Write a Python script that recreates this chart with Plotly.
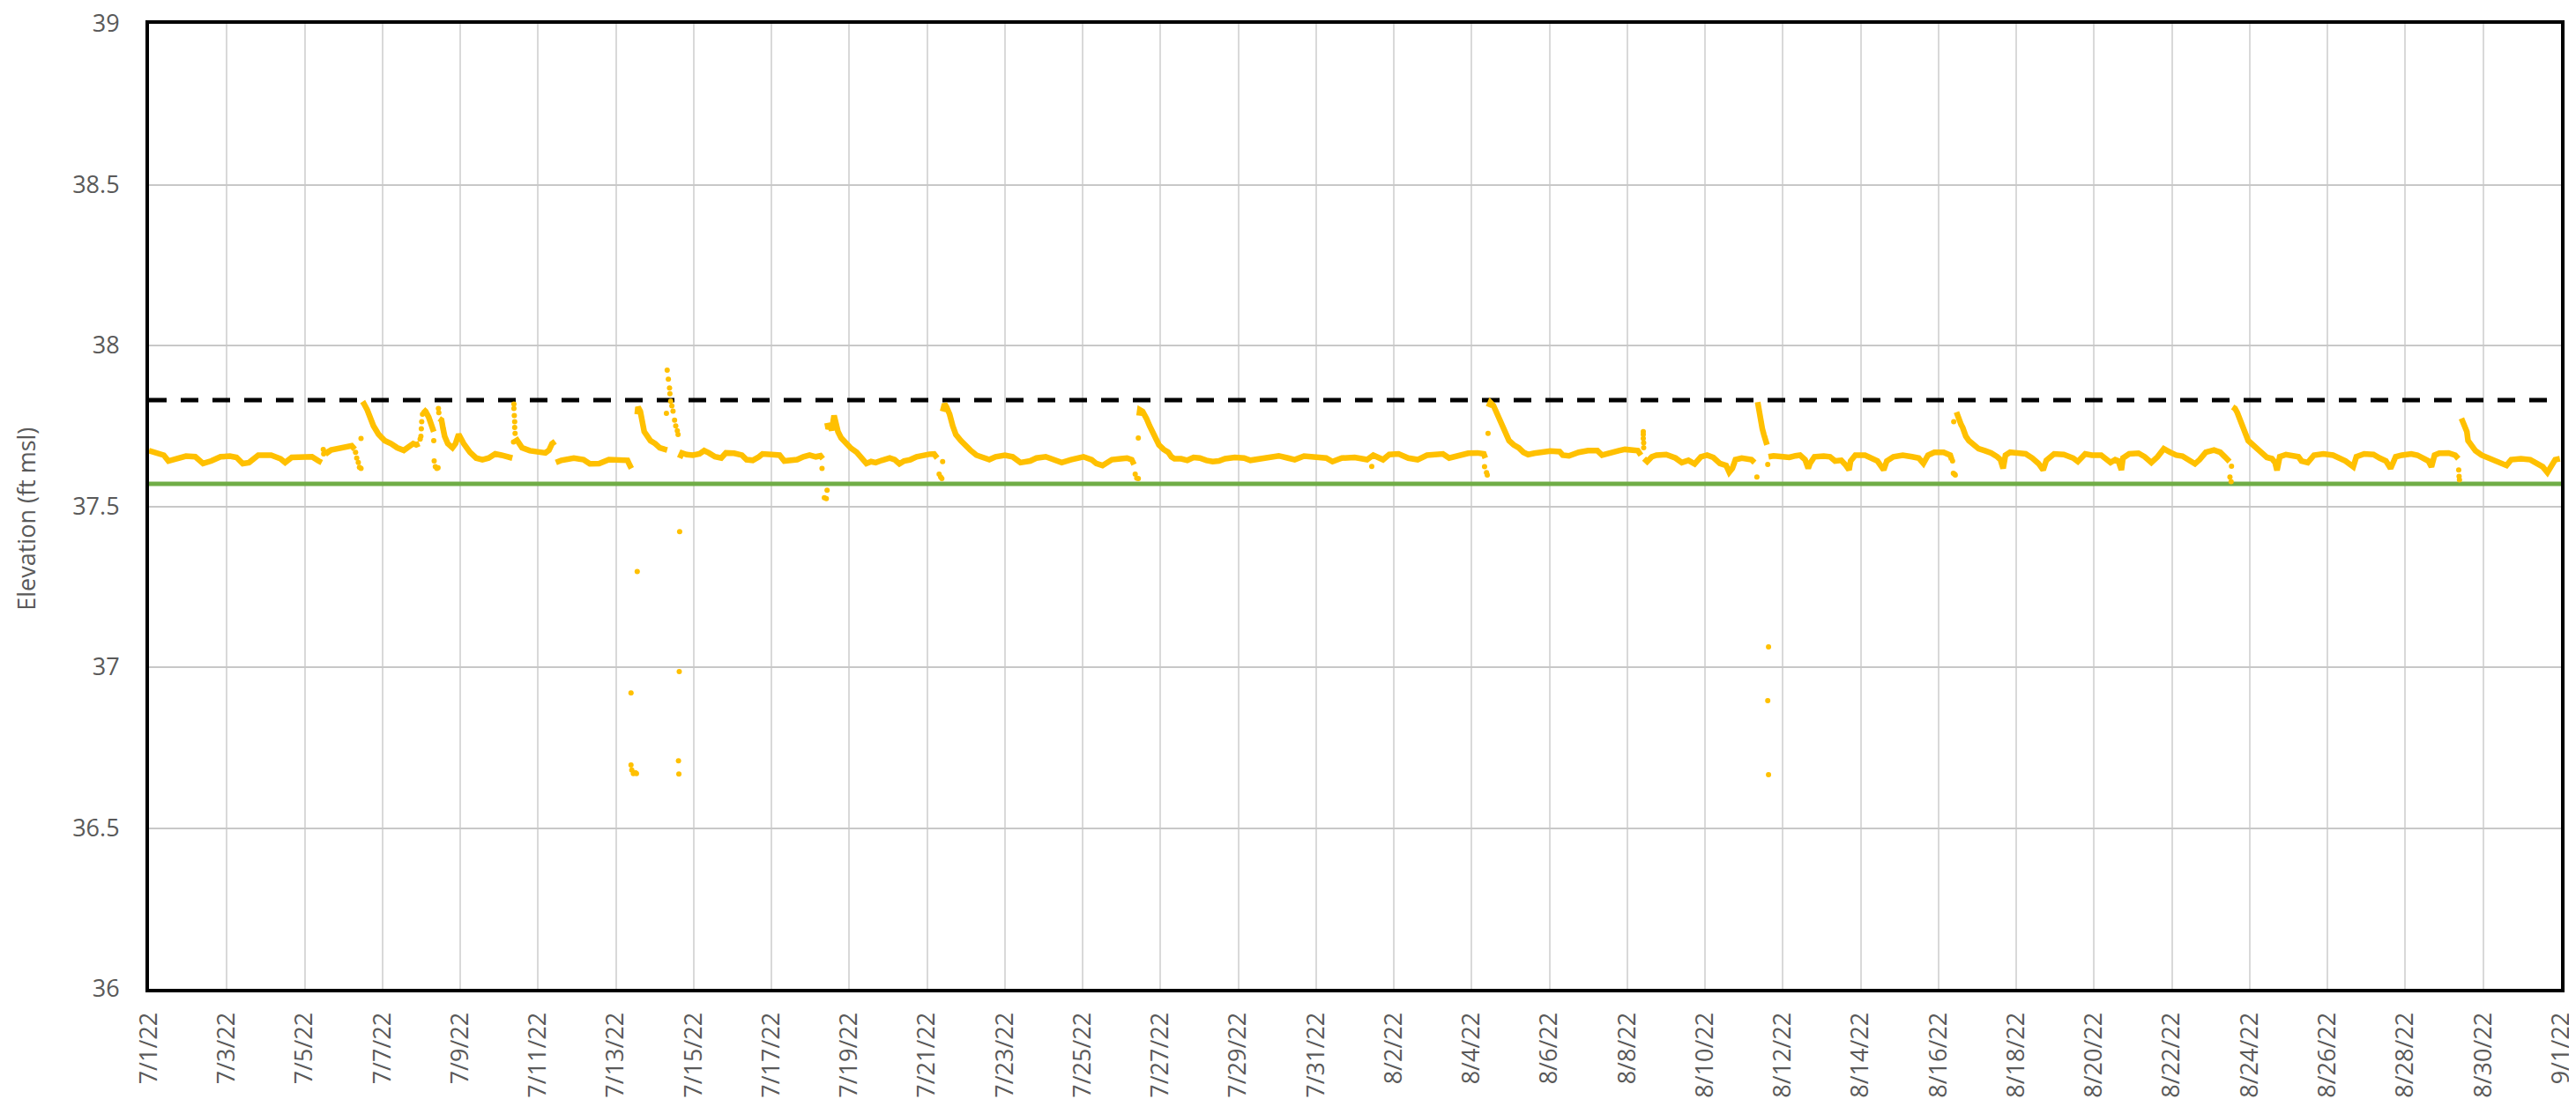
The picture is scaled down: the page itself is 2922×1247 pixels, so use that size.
import pandas as pd
import plotly.graph_objects as go

# ---------------------------------------------------------------------------
# Data
# Readings are (days since 7/1/22 00:00, elevation ft msl)
# ---------------------------------------------------------------------------
START = "2022-07-01"
END = "2022-09-01"

upper_level = 37.83   # dashed black reference line
lower_level = 37.57   # green reference line

y_ticks = [36, 36.5, 37, 37.5, 38, 38.5, 39]

# continuous stretches of the logger record
seg_a = [(0.00, 37.673), (0.19, 37.668), (0.38, 37.659), (0.50, 37.641), (0.71, 37.650), (0.95, 37.656),
         (1.19, 37.654), (1.39, 37.633), (1.60, 37.641), (1.84, 37.654), (2.08, 37.656), (2.25, 37.652),
         (2.41, 37.633), (2.57, 37.636), (2.81, 37.659), (3.14, 37.659), (3.38, 37.648), (3.50, 37.636),
         (3.67, 37.652), (3.95, 37.654), (4.19, 37.654), (4.36, 37.641), (4.44, 37.636)]
seg_b = [(4.56, 37.677), (4.60, 37.668), (4.68, 37.675), (4.76, 37.677), (5.00, 37.682), (5.21, 37.688),
         (5.29, 37.677)]
seg_c = [(5.47, 37.813), (5.53, 37.818), (5.61, 37.800), (5.69, 37.773), (5.77, 37.750), (5.90, 37.724),
         (6.06, 37.704), (6.22, 37.695), (6.38, 37.682), (6.55, 37.674), (6.67, 37.682), (6.79, 37.695),
         (6.87, 37.691), (6.95, 37.695)]
seg_d = [(7.05, 37.802), (7.11, 37.795), (7.19, 37.777), (7.27, 37.750), (7.32, 37.732)]
seg_e = [(7.46, 37.773), (7.52, 37.768), (7.56, 37.741), (7.60, 37.718), (7.68, 37.695), (7.80, 37.682),
         (7.88, 37.695), (7.96, 37.724), (8.09, 37.695), (8.25, 37.668), (8.41, 37.650), (8.57, 37.645),
         (8.73, 37.650), (8.90, 37.663), (9.06, 37.659), (9.22, 37.654), (9.34, 37.650)]
seg_f = [(9.42, 37.713), (9.46, 37.704), (9.59, 37.682), (9.79, 37.673), (9.99, 37.668), (10.19, 37.666),
         (10.28, 37.674), (10.36, 37.695), (10.44, 37.702)]
seg_g = [(10.46, 37.636), (10.60, 37.643), (10.92, 37.650), (11.17, 37.645), (11.33, 37.632), (11.57, 37.633),
         (11.82, 37.645), (12.06, 37.645), (12.30, 37.643), (12.36, 37.627), (12.40, 37.618)]
seg_h = [(12.55, 37.786), (12.57, 37.809), (12.63, 37.795), (12.69, 37.763), (12.73, 37.732), (12.81, 37.718),
         (12.89, 37.704), (13.01, 37.695), (13.13, 37.682), (13.26, 37.677), (13.32, 37.675)]
seg_i = [(13.64, 37.650), (13.70, 37.666), (13.82, 37.661), (13.98, 37.659), (14.15, 37.663), (14.27, 37.673),
         (14.39, 37.666), (14.55, 37.654), (14.71, 37.650), (14.83, 37.666), (15.04, 37.665), (15.24, 37.659),
         (15.36, 37.645), (15.52, 37.643), (15.68, 37.654), (15.77, 37.663), (16.01, 37.661), (16.21, 37.659),
         (16.33, 37.641), (16.49, 37.643), (16.66, 37.645), (16.82, 37.654), (16.98, 37.659), (17.14, 37.654),
         (17.26, 37.657), (17.32, 37.648)]
seg_j = [(17.43, 37.759), (17.46, 37.741), (17.51, 37.750), (17.55, 37.736), (17.61, 37.782), (17.64, 37.768),
         (17.67, 37.754), (17.71, 37.732), (17.79, 37.713), (17.91, 37.695), (18.03, 37.682), (18.19, 37.668),
         (18.32, 37.650), (18.44, 37.633), (18.56, 37.639), (18.68, 37.636), (18.84, 37.643), (19.04, 37.650),
         (19.17, 37.645), (19.29, 37.632), (19.41, 37.641), (19.57, 37.645), (19.73, 37.654), (19.89, 37.659),
         (20.06, 37.662), (20.18, 37.663), (20.26, 37.650)]
seg_k = [(20.40, 37.795), (20.45, 37.818), (20.50, 37.809), (20.58, 37.786), (20.66, 37.750), (20.74, 37.723),
         (20.87, 37.704), (20.99, 37.686), (21.11, 37.675), (21.27, 37.659), (21.43, 37.650), (21.60, 37.645),
         (21.76, 37.654), (22.00, 37.659), (22.20, 37.654), (22.40, 37.636), (22.65, 37.641), (22.81, 37.650),
         (23.05, 37.654), (23.26, 37.643), (23.46, 37.636), (23.70, 37.645), (24.02, 37.654), (24.23, 37.645),
         (24.35, 37.633), (24.51, 37.627), (24.75, 37.645), (24.98, 37.648), (25.14, 37.650), (25.26, 37.645),
         (25.32, 37.630)]
seg_l = [(25.45, 37.782), (25.47, 37.800), (25.54, 37.795), (25.59, 37.786), (25.64, 37.773), (25.72, 37.750),
         (25.80, 37.727), (25.88, 37.704), (25.96, 37.691), (26.08, 37.677), (26.20, 37.668), (26.28, 37.654),
         (26.36, 37.648), (26.53, 37.648), (26.69, 37.643), (26.85, 37.652), (27.01, 37.650), (27.18, 37.643),
         (27.34, 37.639), (27.50, 37.641), (27.66, 37.648), (27.91, 37.652), (28.15, 37.650), (28.31, 37.643),
         (28.55, 37.648), (28.80, 37.654), (29.04, 37.657), (29.28, 37.650), (29.45, 37.645), (29.69, 37.656),
         (30.01, 37.654), (30.26, 37.650), (30.42, 37.639), (30.66, 37.650), (30.99, 37.652), (31.31, 37.645),
         (31.47, 37.659), (31.72, 37.645), (31.88, 37.661), (32.12, 37.663), (32.37, 37.650), (32.61, 37.645),
         (32.85, 37.659), (33.10, 37.661), (33.26, 37.663), (33.42, 37.650), (33.66, 37.657), (33.91, 37.665),
         (34.15, 37.666), (34.31, 37.663), (34.35, 37.650)]
seg_m = [(34.43, 37.809), (34.48, 37.823), (34.56, 37.813), (34.64, 37.791), (34.72, 37.763), (34.80, 37.745),
         (34.88, 37.723), (34.96, 37.704), (35.08, 37.691), (35.21, 37.682), (35.33, 37.668), (35.45, 37.661),
         (35.61, 37.665), (35.77, 37.668), (36.02, 37.672), (36.26, 37.670), (36.34, 37.659), (36.50, 37.657),
         (36.75, 37.668), (36.99, 37.673), (37.23, 37.673), (37.35, 37.659), (37.46, 37.663), (37.62, 37.670),
         (37.78, 37.673), (37.94, 37.677), (38.11, 37.675), (38.27, 37.673), (38.35, 37.659)]
seg_n = [(38.43, 37.648), (38.51, 37.639), (38.63, 37.654), (38.75, 37.659), (39.00, 37.661), (39.24, 37.650),
         (39.40, 37.636), (39.57, 37.643), (39.73, 37.632), (39.89, 37.654), (40.05, 37.659), (40.21, 37.652),
         (40.38, 37.633), (40.54, 37.627), (40.62, 37.606), (40.70, 37.618), (40.78, 37.645), (40.94, 37.650),
         (41.19, 37.645), (41.27, 37.636)]
seg_o = [(41.35, 37.824), (41.37, 37.809), (41.38, 37.782), (41.43, 37.763), (41.47, 37.741), (41.51, 37.723),
         (41.55, 37.704), (41.59, 37.691)]
seg_p = [(41.63, 37.654), (41.76, 37.657), (42.00, 37.654), (42.16, 37.652), (42.32, 37.657), (42.44, 37.659),
         (42.57, 37.645), (42.65, 37.618), (42.69, 37.632), (42.81, 37.654), (43.05, 37.656), (43.21, 37.654),
         (43.34, 37.641), (43.50, 37.643), (43.62, 37.627), (43.70, 37.613), (43.74, 37.641), (43.86, 37.659),
         (44.11, 37.659), (44.27, 37.648), (44.43, 37.641), (44.59, 37.613), (44.67, 37.641), (44.84, 37.654),
         (45.08, 37.659), (45.32, 37.654), (45.49, 37.650), (45.61, 37.633), (45.73, 37.659), (45.89, 37.668),
         (46.13, 37.668), (46.30, 37.659), (46.34, 37.645)]
seg_q = [(46.46, 37.793), (46.50, 37.777), (46.58, 37.754), (46.62, 37.745), (46.66, 37.730), (46.70, 37.718),
         (46.78, 37.704), (46.90, 37.691), (47.03, 37.679), (47.19, 37.673), (47.35, 37.666), (47.51, 37.654),
         (47.59, 37.645), (47.66, 37.618), (47.72, 37.659), (47.84, 37.668), (48.08, 37.666), (48.24, 37.663),
         (48.41, 37.650), (48.57, 37.633), (48.69, 37.613), (48.77, 37.643), (48.97, 37.663), (49.22, 37.661),
         (49.46, 37.650), (49.58, 37.639), (49.77, 37.663), (49.94, 37.659), (50.18, 37.659), (50.34, 37.645),
         (50.42, 37.636), (50.54, 37.645), (50.62, 37.641), (50.70, 37.613), (50.74, 37.650), (50.90, 37.663),
         (51.14, 37.665), (51.30, 37.654), (51.47, 37.636), (51.63, 37.654), (51.79, 37.679), (51.95, 37.668),
         (52.11, 37.659), (52.27, 37.656), (52.43, 37.645), (52.59, 37.632), (52.71, 37.645), (52.87, 37.668),
         (53.08, 37.675), (53.24, 37.668), (53.36, 37.654), (53.44, 37.645), (53.48, 37.639)]
seg_r = [(53.56, 37.809), (53.62, 37.804), (53.68, 37.791), (53.72, 37.777), (53.78, 37.759), (53.84, 37.741),
         (53.90, 37.723), (53.96, 37.704), (54.08, 37.691), (54.20, 37.679), (54.32, 37.666), (54.44, 37.652),
         (54.57, 37.648), (54.65, 37.636), (54.70, 37.612), (54.77, 37.654), (54.93, 37.661), (55.09, 37.659),
         (55.25, 37.654), (55.33, 37.641), (55.49, 37.636), (55.65, 37.659), (55.89, 37.663), (56.14, 37.659),
         (56.30, 37.650), (56.46, 37.641), (56.66, 37.623), (56.74, 37.654), (56.94, 37.663), (57.18, 37.661),
         (57.34, 37.650), (57.50, 37.641), (57.62, 37.618), (57.75, 37.654), (57.91, 37.659), (58.15, 37.663),
         (58.31, 37.659), (58.47, 37.650), (58.59, 37.641), (58.67, 37.623), (58.75, 37.659), (58.87, 37.665),
         (59.11, 37.666), (59.28, 37.659), (59.36, 37.648)]
seg_s = [(59.44, 37.773), (59.52, 37.754), (59.58, 37.732), (59.61, 37.704), (59.68, 37.691), (59.80, 37.673),
         (59.96, 37.659), (60.16, 37.650), (60.32, 37.643), (60.48, 37.636), (60.60, 37.627), (60.72, 37.645),
         (60.97, 37.648), (61.21, 37.645), (61.37, 37.636), (61.53, 37.623), (61.65, 37.605), (61.73, 37.623),
         (61.85, 37.645), (61.97, 37.648)]

# sparse readings during fast rises / drops
sparse_pts = [(4.48, 37.677), (4.49, 37.663),
              (5.31, 37.668), (5.34, 37.650), (5.38, 37.636), (5.41, 37.621), (5.45, 37.618), (5.45, 37.711),
              (6.97, 37.709), (6.99, 37.718), (7.00, 37.741), (7.01, 37.763), (7.03, 37.786),
              (7.32, 37.704), (7.33, 37.641), (7.36, 37.623), (7.40, 37.618), (7.43, 37.620),
              (7.44, 37.804), (7.45, 37.791),
              (9.37, 37.700), (9.38, 37.818), (9.38, 37.804), (9.39, 37.782), (9.40, 37.763), (9.40, 37.745),
              (9.41, 37.727),
              (13.30, 37.789), (13.32, 37.923), (13.35, 37.895), (13.38, 37.868), (13.39, 37.850),
              (13.41, 37.827), (13.44, 37.812), (13.47, 37.796), (13.51, 37.768), (13.54, 37.750),
              (13.58, 37.735), (13.60, 37.723),
              (17.30, 37.618), (17.43, 37.550), (17.36, 37.527), (17.41, 37.524),
              (20.31, 37.600), (20.35, 37.591), (20.38, 37.586), (20.40, 37.639),
              (25.35, 37.600), (25.39, 37.588), (25.43, 37.586), (25.43, 37.712),
              (31.43, 37.624), (34.33, 37.623), (34.38, 37.605), (34.40, 37.597), (34.42, 37.727),
              (38.41, 37.732), (38.41, 37.723), (38.41, 37.711), (38.42, 37.697), (38.42, 37.682),
              (41.33, 37.591), (41.61, 37.630),
              (46.36, 37.641), (46.38, 37.603), (46.41, 37.600), (46.43, 37.597), (46.39, 37.763),
              (53.53, 37.625), (53.49, 37.591), (53.52, 37.577),
              (59.37, 37.613), (59.38, 37.593), (59.39, 37.582)]

# low outlier readings
low_outliers = [(12.39, 36.920), (12.39, 36.696), (12.41, 36.680), (12.45, 36.669), (12.50, 36.672),
                (12.53, 36.669), (12.55, 37.297),
                (13.64, 37.421), (13.63, 36.986), (13.61, 36.709), (13.62, 36.668),
                (41.63, 37.063), (41.61, 36.896), (41.63, 36.666)]

segments = [seg_a, seg_b, seg_c, seg_d, seg_e, seg_f, seg_g, seg_h, seg_i, seg_j,
            seg_k, seg_l, seg_m, seg_n, seg_o, seg_p, seg_q, seg_r, seg_s]

# ---------------------------------------------------------------------------
base = pd.Timestamp(START)


def to_time(d):
    return base + pd.Timedelta(days=d)


line_x, line_y = [], []
for seg in segments:
    for d, v in seg:
        line_x.append(to_time(d))
        line_y.append(v)
    line_x.append(None)
    line_y.append(None)

pts = sparse_pts + low_outliers
pts_x = [to_time(d) for d, _ in pts]
pts_y = [v for _, v in pts]

YELLOW = "#FFC000"
GREEN = "#70AD47"
GREY_TXT = "#595959"
FONT = "Open Sans"

fig = go.Figure()

# reference levels
fig.add_trace(go.Scatter(x=[START, END], y=[lower_level, lower_level], mode="lines",
                         line=dict(color=GREEN, width=5), hoverinfo="skip"))
fig.add_trace(go.Scatter(x=[START, END], y=[upper_level, upper_level], mode="lines",
                         line=dict(color="black", width=5, dash="20px,16px"), hoverinfo="skip"))

# logger data
fig.add_trace(go.Scatter(x=line_x, y=line_y, mode="lines", connectgaps=False,
                         line=dict(color=YELLOW, width=6.5)))
fig.add_trace(go.Scatter(x=pts_x, y=pts_y, mode="markers",
                         marker=dict(color=YELLOW, size=6, line=dict(width=0))))

# the page body keeps its default 8px margin; the figure fills the rest of the window
fig.update_layout(
    template="none",
    width=2914, height=1239,
    paper_bgcolor="white", plot_bgcolor="white",
    margin=dict(l=161, r=17, t=19, b=125, pad=0),
    showlegend=False,
    font=dict(family=FONT, color=GREY_TXT, size=27),
)

fig.update_xaxes(
    type="date",
    range=[START, END],
    tick0=START, dtick=2 * 86400000,
    tickformat="%-m/%-d/%y",
    tickangle=-90,
    tickfont=dict(family=FONT, size=27, color=GREY_TXT),
    ticks="outside", ticklen=12, tickcolor="rgba(0,0,0,0)",
    ticklabeloverflow="allow",
    showgrid=True, gridcolor="#D9D9D9", gridwidth=2,
    showline=True, linecolor="black", linewidth=4, mirror=True,
    zeroline=False, automargin=False,
)
fig.update_yaxes(
    range=[36, 39],
    tickvals=y_ticks,
    ticktext=[f"{t:g}" for t in y_ticks],
    tickfont=dict(family=FONT, size=27, color=GREY_TXT),
    ticks="outside", ticklen=24, tickcolor="rgba(0,0,0,0)",
    ticklabeloverflow="allow",
    showgrid=True, gridcolor="#C8C8C8", gridwidth=2,
    showline=True, linecolor="black", linewidth=4, mirror=True,
    zeroline=False, automargin=False,
)

fig.add_annotation(
    text="Elevation (ft msl)", textangle=-90,
    xref="paper", yref="paper", x=-0.0508, y=0.487,
    xanchor="center", yanchor="middle", showarrow=False,
    font=dict(family=FONT, size=27, color=GREY_TXT),
)

fig.write_html("out.html")
